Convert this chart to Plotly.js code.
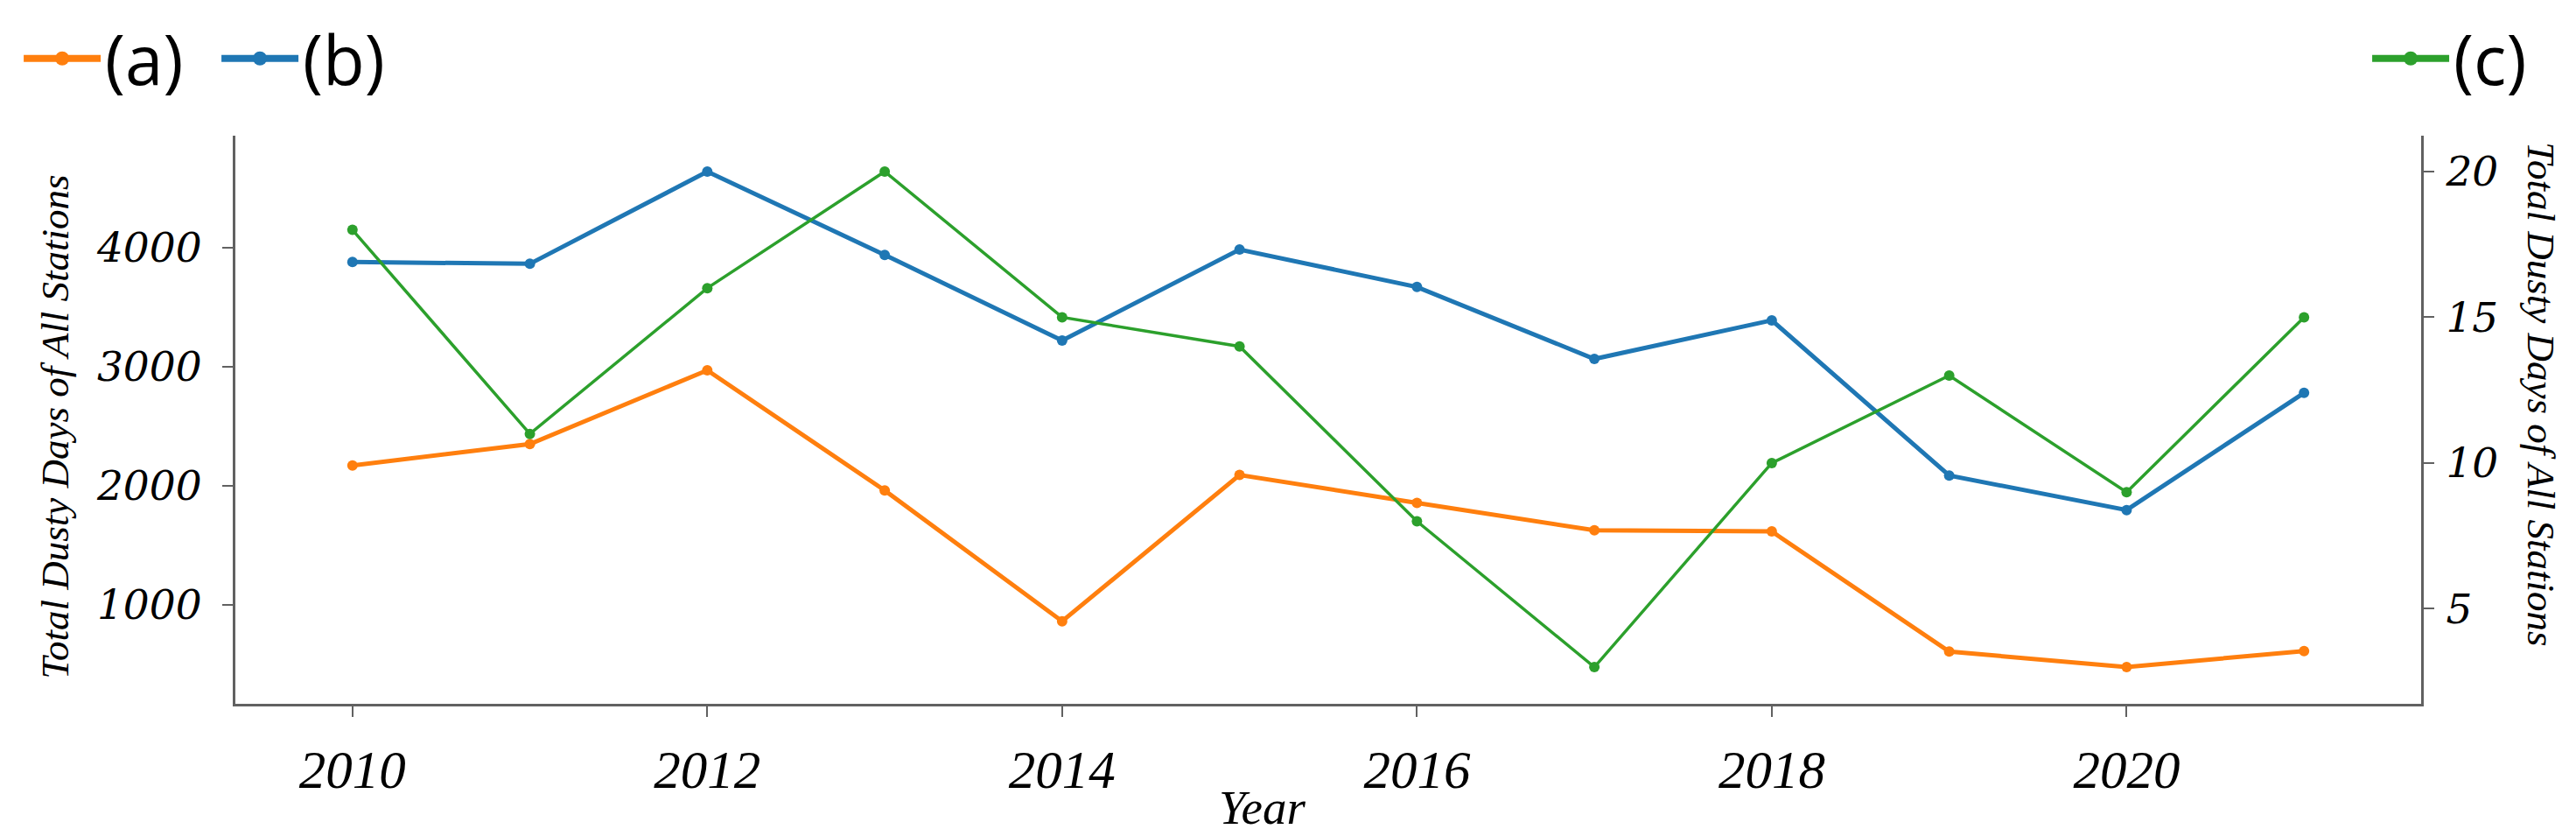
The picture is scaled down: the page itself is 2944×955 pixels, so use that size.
<!DOCTYPE html>
<html>
<head>
<meta charset="utf-8">
<script src="https://cdn.plot.ly/plotly-3.0.1.min.js"></script>
<style>
html, body { margin: 0; padding: 0; background: #fff; }
#chart { width: 2944px; height: 955px; }
</style>
</head>
<body>
<div id="chart"></div>
<script>
// ---- data ----
const years = [2010, 2011, 2012, 2013, 2014, 2015, 2016, 2017, 2018, 2019, 2020, 2021];
const seriesA = [2170, 2350, 2970, 1960, 860, 2090, 1855, 1625, 1615, 605, 475, 610];
const seriesB = [3880, 3865, 4640, 3940, 3220, 3985, 3670, 3065, 3390, 2085, 1795, 2780];
const seriesC = [18, 11, 16, 20, 15, 14, 8, 3, 10, 13, 9, 15];
const seriesNames = ['(a)', '(b)', '(c)'];
const leftTicks = [1000, 2000, 3000, 4000];
const rightTicks = [5, 10, 15, 20];
const xTicks = [2010, 2012, 2014, 2016, 2018, 2020];
const yTitle = 'Total Dusty Days of All Stations';
const xTitle = 'Year';

const colA = '#ff7f0e', colB = '#1f77b4', colC = '#2ca02c';
const axisCol = '#616161';

function series(x, y, name, color, width, axis) {
  return { x: x, y: y, name: name, type: 'scatter', mode: 'lines+markers',
    line: { color: color, width: width }, marker: { color: color, size: 12 },
    yaxis: axis, showlegend: false };
}
// legend-only entries (no data points) so the legend glyphs can be drawn thicker
function legendEntry(name, color, legendId) {
  return { x: [null], y: [null], name: name, type: 'scatter', mode: 'lines+markers',
    line: { color: color, width: 8 }, marker: { color: color, size: 16 },
    showlegend: true, legend: legendId, hoverinfo: 'skip' };
}

const traces = [
  series(years, seriesA, seriesNames[0], colA, 5, 'y'),
  series(years, seriesB, seriesNames[1], colB, 5, 'y'),
  series(years, seriesC, seriesNames[2], colC, 3.5, 'y2'),
  legendEntry(seriesNames[0], colA, 'legend'),
  legendEntry(seriesNames[1], colB, 'legend'),
  legendEntry(seriesNames[2], colC, 'legend2')
];

const axisCommon = {
  showline: true, linecolor: axisCol, linewidth: 3,
  ticks: 'outside', ticklen: 12, tickwidth: 2, tickcolor: axisCol,
  showgrid: false, zeroline: false
};

const legendFont = { family: 'Open Sans', size: 78, color: '#000' };

const layout = {
  width: 2944, height: 955,
  margin: { l: 269, r: 177, t: 155, b: 151, pad: 0 },
  paper_bgcolor: '#ffffff', plot_bgcolor: '#ffffff',
  showlegend: true,
  xaxis: Object.assign({}, axisCommon, {
    range: [2009.34, 2021.66], tickvals: xTicks,
    tickfont: { family: 'Liberation Serif', size: 61, style: 'italic', color: '#000' },
    ticklabelstandoff: 8
  }),
  yaxis: Object.assign({}, axisCommon, {
    range: [166, 4942], tickvals: leftTicks,
    tickfont: { family: 'DejaVu Serif', size: 47, style: 'italic', color: '#000' },
    ticklabelstandoff: 14
  }),
  yaxis2: Object.assign({}, axisCommon, {
    overlaying: 'y', side: 'right', anchor: 'x',
    range: [1.74, 21.23], tickvals: rightTicks,
    tickfont: { family: 'DejaVu Serif', size: 47, style: 'italic', color: '#000' },
    ticklabelstandoff: 4
  }),
  legend: {
    orientation: 'h', xref: 'container', yref: 'container',
    x: 0.0075, y: 0.99, xanchor: 'left', yanchor: 'top',
    font: legendFont, bgcolor: 'rgba(0,0,0,0)', itemwidth: 88,
    entrywidth: 123, entrywidthmode: 'pixels'
  },
  legend2: {
    orientation: 'h', xref: 'container', yref: 'container',
    x: 0.9827, y: 0.99, xanchor: 'right', yanchor: 'top',
    font: legendFont, bgcolor: 'rgba(0,0,0,0)', itemwidth: 88
  },
  annotations: [
    { text: yTitle, xref: 'paper', yref: 'paper', x: -0.0825, y: 0.487,
      xanchor: 'center', yanchor: 'middle', textangle: -90, showarrow: false,
      font: { family: 'Liberation Serif', size: 45, style: 'italic', color: '#000' } },
    { text: yTitle, xref: 'paper', yref: 'paper', x: 1.0548, y: 0.5455,
      xanchor: 'center', yanchor: 'middle', textangle: 90, showarrow: false,
      font: { family: 'Liberation Serif', size: 45, style: 'italic', color: '#000' } },
    { text: xTitle, xref: 'paper', yref: 'paper', x: 0.4696, y: -0.182,
      xanchor: 'center', yanchor: 'middle', showarrow: false,
      font: { family: 'Liberation Serif', size: 55, style: 'italic', color: '#000' } }
  ]
};

Plotly.newPlot('chart', traces, layout, { staticPlot: true, displayModeBar: false });
</script>
</body>
</html>
